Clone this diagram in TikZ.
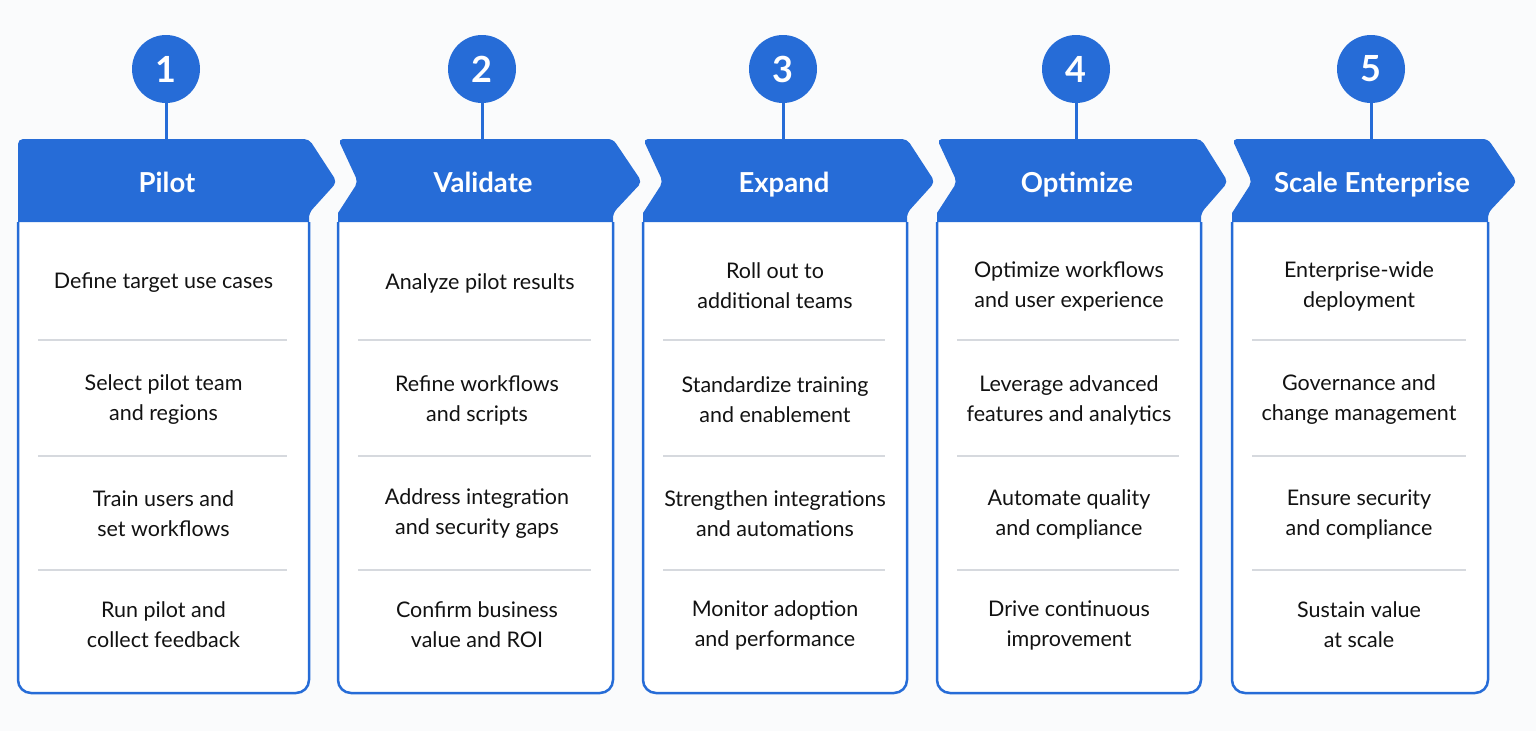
\documentclass[tikz,border=0pt]{standalone}
\usepackage{fontspec}
\setmainfont{Lato}
\definecolor{pblue}{RGB}{38,108,215}
\definecolor{divgrey}{RGB}{214,217,222}
\definecolor{ink}{RGB}{18,18,18}
\definecolor{pagebg}{RGB}{250,251,252}
\begin{document}
\begin{tikzpicture}[x=1pt,y=-1pt,
  bodybox/.style={draw=pblue, line width=2.5pt, fill=white, rounded corners=13pt},
  divline/.style={draw=divgrey, line width=1.8pt},
  stepnum/.style={circle, fill=pblue, minimum size=68pt, inner sep=0pt, text=white, font=\fontsize{36}{36}\selectfont\bfseries},
  ttl/.style={text=white, anchor=base, font=\fontsize{27.5}{30}\selectfont\bfseries},
  item/.style={text=ink, align=center, font=\fontsize{21.5}{30}\selectfont},
  link/.style={draw=pblue, line width=3pt}]
\fill[pagebg] (0,0) rectangle (1536,731);
\useasboundingbox (0,0) rectangle (1536,731);
% columns: index / left / right / tip / notch / circle x / title
\foreach \i/\L/\R/\T/\N/\cx/\ttxt in {1/18/309/337/0/166/Pilot, 2/338/613/642/20/482/Validate, 3/643/907/935/20/783/Expand, 4/937/1201/1228/20/1076/Optimize, 5/1232/1488/1517/20/1371/Scale Enterprise}{
  \draw[bodybox] (\L,222) -- (\L,693) -- (\R,693) -- (\R,222);
  \fill[pblue] (\L,222) -- (\L,213) [rounded corners=5pt] -- (\L+\N,182) -- (\L,139) -- (\R,139) -- (\T,182) -- (\R,213) [sharp corners] -- (\R,222) -- cycle;
  \node[ttl] (h\i) at (\cx+1,192) {\ttxt};
  \foreach \yy in {340,456,570}{
    \draw[divline] (\L+20,\yy) -- (\R-22,\yy);
  }
  \node[stepnum] (c\i) at (\cx,69) {\i};
  \coordinate (ht\i) at (\cx,140);
  \draw[link] (c\i) -- (ht\i);
}
% column 1
\node[item] (t1a) at (163.5,283) {Define target use cases};
\node[item] (t1b) at (163.5,400) {Select pilot team\\and regions};
\node[item] (t1c) at (163.5,514) {Train users and\\set workflows};
\node[item] (t1d) at (163.5,625) {Run pilot and\\collect feedback};
% column 2
\node[item] (t2a) at (480,283) {Analyze pilot results};
\node[item] (t2b) at (477,400) {Refine workflows\\and scripts};
\node[item] (t2c) at (477,514) {Address integration\\and security gaps};
\node[item] (t2d) at (477,625) {Confirm business\\value and ROI};
% column 3
\node[item] (t3a) at (775,286) {Roll out to\\additional teams};
\node[item] (t3b) at (775,400) {Standardize training\\and enablement};
\node[item] (t3c) at (775,514) {Strengthen integrations\\and automations};
\node[item] (t3d) at (775,625) {Monitor adoption\\and performance};
% column 4
\node[item] (t4a) at (1069,286) {Optimize workflows\\and user experience};
\node[item] (t4b) at (1069,400) {Leverage advanced\\features and analytics};
\node[item] (t4c) at (1069,514) {Automate quality\\and compliance};
\node[item] (t4d) at (1069,625) {Drive continuous\\improvement};
% column 5
\node[item] (t5a) at (1359,286) {Enterprise-wide\\deployment};
\node[item] (t5b) at (1359,400) {Governance and\\change management};
\node[item] (t5c) at (1359,514) {Ensure security\\and compliance};
\node[item] (t5d) at (1359,625) {Sustain value\\at scale};
\end{tikzpicture}
\end{document}
